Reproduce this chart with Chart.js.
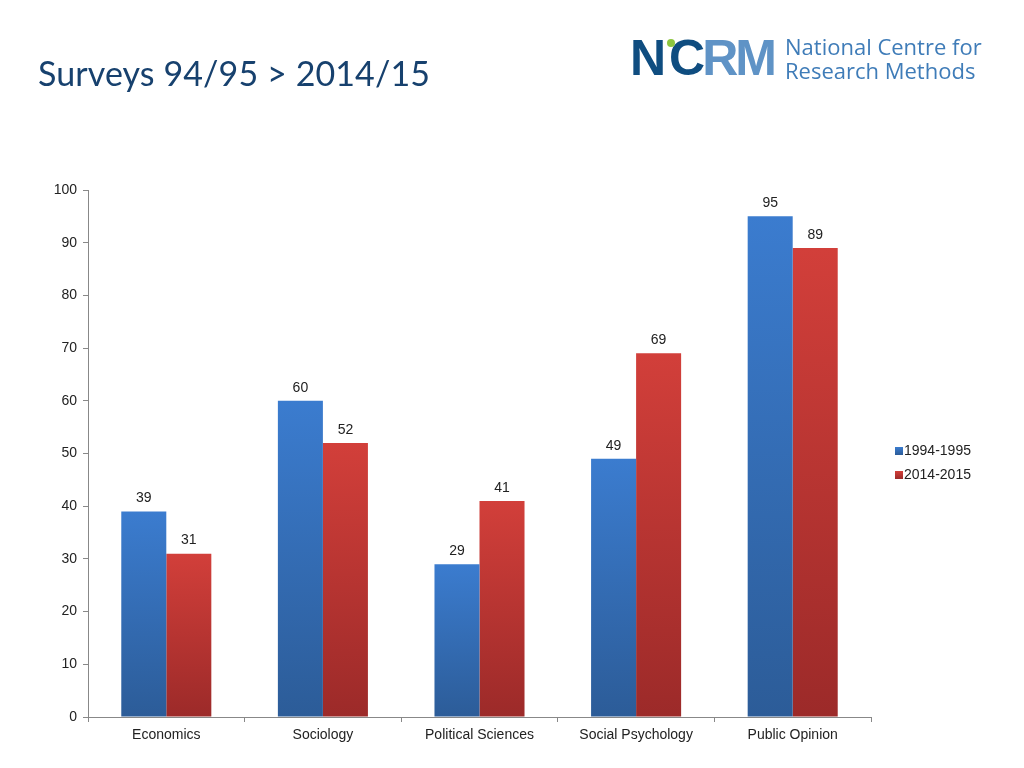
<!DOCTYPE html>
<html>
<head>
<meta charset="utf-8">
<script src="https://cdn.jsdelivr.net/npm/chart.js@4.4.0/dist/chart.umd.min.js"></script>
<style>
    body { margin: 0; background: #fff; width: 1024px; height: 768px; overflow: hidden; position: relative; font-family: 'Liberation Sans', Arial, sans-serif; }
    #title { position: absolute; left: 38px; top: 52px; font-family: Lato, 'Open Sans', sans-serif; font-size: 34px; color: #17416e; letter-spacing: 0.1px; }
    #logo { position: absolute; left: 630px; top: 28px; height: 60px; }
    #logo .mark { position: absolute; left: 0; top: 0; font-family: 'Liberation Sans', Arial, sans-serif; font-weight: bold; font-size: 50px; line-height: 60px; letter-spacing: -3px; }
    #logo .dk { color: #0f4d80; }
    #logo .lt { color: #5f93c6; }
    #logo .dot { position: absolute; left: 37px; top: 11px; width: 8px; height: 8px; border-radius: 50%; background: #8dc63f; }
    #logo .words { position: absolute; left: 155px; top: 6px; font-family: 'Open Sans', sans-serif; font-size: 22px; line-height: 24px; color: #3f7cb8; white-space: nowrap; }
    #chartBox { position: absolute; left: 0; top: 0; width: 1024px; height: 768px; }
    #legend { position: absolute; left: 895px; top: 441px; font-size: 14px; color: #222; }
    #legend div { height: 24px; line-height: 18px; white-space: nowrap; }
    #legend span { display: inline-block; width: 8px; height: 8px; margin-right: 1px; vertical-align: 0px; }
</style>
</head>
<body>
<div id="chartBox"><canvas id="surveyChart"></canvas></div>
<div id="title">Surveys 94/95 &gt; 2014/15</div>
<div id="logo">
    <div class="mark"><span class="dk">NCRM</span></div>
    <div class="dot"></div>
    <div class="words">National Centre for<br>Research Methods</div>
</div>
<div id="legend"></div>
<script>
// Data
const categories = ['Economics', 'Sociology', 'Political Sciences', 'Social Psychology', 'Public Opinion'];
const seriesNames = ['1994-1995', '2014-2015'];
const values1995 = [39, 60, 29, 49, 95];
const values2015 = [31, 52, 41, 69, 89];
const yTicks = [0, 10, 20, 30, 40, 50, 60, 70, 80, 90, 100];

// colours: [top, bottom]
const blueShade = ['#3b7ccf', '#2c5c98'];
const redShade = ['#d23f3a', '#9c2a29'];

// colour the logo letters: N C dark, R M lighter
document.querySelector('#logo .mark').innerHTML =
    '<span class="dk">N</span><span class="dk" style="margin-left:6px">C</span><span class="lt">RM</span>';

function barGradient(shade) {
    return (ctx) => {
        const chart = ctx.chart;
        if (!chart.chartArea || ctx.type !== 'data') return shade[0];
        const y = chart.scales.y;
        const top = y.getPixelForValue(ctx.raw);
        const bottom = y.getPixelForValue(0);
        const g = chart.ctx.createLinearGradient(0, top, 0, bottom);
        g.addColorStop(0, shade[0]);
        g.addColorStop(1, shade[1]);
        return g;
    };
}

// Value labels above bars
const valueLabels = {
    id: 'valueLabels',
    afterDatasetsDraw(chart) {
        const ctx = chart.ctx;
        ctx.save();
        ctx.font = '14px "Liberation Sans", Arial, sans-serif';
        ctx.fillStyle = '#222';
        ctx.textAlign = 'center';
        ctx.textBaseline = 'bottom';
        chart.data.datasets.forEach((ds, i) => {
            chart.getDatasetMeta(i).data.forEach((bar, j) => {
                ctx.fillText(ds.data[j], bar.x, bar.y - 6);
            });
        });
        ctx.restore();
    }
};

const ctx = document.getElementById('surveyChart').getContext('2d');
new Chart(ctx, {
    type: 'bar',
    data: {
        labels: categories,
        datasets: [
            {
                label: seriesNames[0],
                data: values1995,
                backgroundColor: barGradient(blueShade),
                categoryPercentage: 0.575,
                barPercentage: 1
            },
            {
                label: seriesNames[1],
                data: values2015,
                backgroundColor: barGradient(redShade),
                categoryPercentage: 0.575,
                barPercentage: 1
            }
        ]
    },
    options: {
        responsive: true,
        maintainAspectRatio: false,
        animation: false,
        layout: { padding: { left: 0, top: 190, right: 153, bottom: 0 } },
        plugins: {
            legend: { display: false },
            tooltip: { enabled: false }
        },
        scales: {
            x: {
                grid: {
                    drawOnChartArea: false,
                    color: '#888',
                    tickLength: 5
                },
                border: { color: '#888' },
                ticks: {
                    color: '#222',
                    font: { family: 'Liberation Sans', size: 14 },
                    padding: 5
                },
                afterFit: (s) => { s.height = 51; }
            },
            y: {
                min: 0,
                max: 100,
                afterBuildTicks: (s) => { s.ticks = yTicks.map(v => ({ value: v })); },
                grid: {
                    drawOnChartArea: false,
                    color: '#888',
                    tickLength: 5
                },
                border: { color: '#888' },
                ticks: {
                    color: '#222',
                    font: { family: 'Liberation Sans', size: 14 },
                    padding: 6
                },
                afterFit: (s) => { s.width = 88; }
            }
        }
    },
    plugins: [valueLabels]
});

// legend
const legendEl = document.getElementById('legend');
[blueShade, redShade].forEach((shade, i) => {
    const row = document.createElement('div');
    row.innerHTML = '<span style="background:linear-gradient(' + shade[0] + ',' + shade[1] + ')"></span>' + seriesNames[i];
    legendEl.appendChild(row);
});
</script>
</body>
</html>
